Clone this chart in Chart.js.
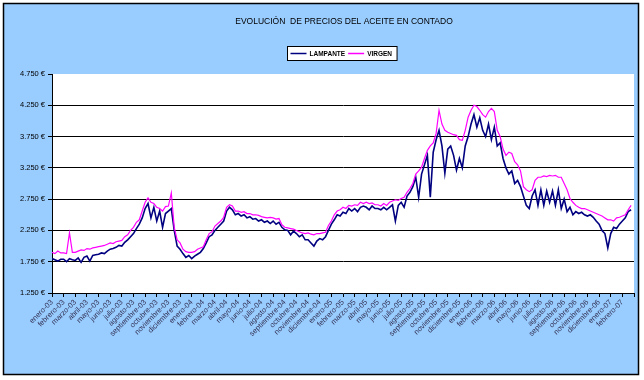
<!DOCTYPE html>
<html><head><meta charset="utf-8">
<script src="https://cdn.jsdelivr.net/npm/chart.js@4.4.1/dist/chart.umd.min.js"></script>
<style>html,body{margin:0;padding:0;background:#fff}#wrap{width:644px;height:380px}</style>
</head><body><div id="wrap"><canvas id="c" width="644" height="380"></canvas></div>
<script>
const chartTitle = 'EVOLUCIÓN  DE PRECIOS DEL ACEITE EN CONTADO';
const seriesNames = ['LAMPANTE', 'VIRGEN'];
const months = [
 'enero-03','febrero-03','marzo-03','abril-03','mayo-03','junio-03','julio-03','agosto-03','septiembre-03','octubre-03','noviembre-03','diciembre-03',
 'enero-04','febrero-04','marzo-04','abril-04','mayo-04','junio-04','julio-04','agosto-04','septiembre-04','octubre-04','noviembre-04','diciembre-04',
 'enero-05','febrero-05','marzo-05','abril-05','mayo-05','junio-05','julio-05','agosto-05','septiembre-05','octubre-05','noviembre-05','diciembre-05',
 'enero-06','febrero-06','marzo-06','abril-06','mayo-06','junio-06','julio-06','agosto-06','septiembre-06','octubre-06','noviembre-06','diciembre-06',
 'enero-07','febrero-07'
];
const yTicks = [1250, 1750, 2250, 2750, 3250, 3750, 4250, 4750];
const pointsPerMonth = 4;
// weekly readings, 4 per month, enero-03 .. febrero-07
const lampante = [
 1800,1780,1760,1790, 1790,1750,1800,1780, 1770,1810,1740,1820, 1840,1760,1850,1860,
 1870,1890,1880,1920, 1950,1960,1980,2010, 2000,2060,2100,2150, 2200,2280,2350,2450,
 2600,2680,2450,2620, 2400,2560,2300,2520, 2560,2600,2250,2000, 1950,1880,1820,1850,
 1800,1840,1870,1900, 1960,2050,2150,2180, 2250,2300,2350,2400, 2560,2620,2580,2500,
 2520,2480,2500,2450, 2470,2430,2440,2400, 2420,2380,2400,2360, 2400,2350,2380,2300,
 2260,2250,2180,2240, 2200,2150,2180,2100, 2100,2050,2000,2080, 2120,2100,2150,2250,
 2350,2420,2500,2480, 2540,2520,2600,2560, 2600,2550,2620,2640, 2620,2580,2640,2600,
 2600,2580,2620,2580, 2620,2660,2400,2650, 2700,2620,2800,2860, 2950,3100,2780,3150,
 3300,3450,2780,3500, 3700,3850,3600,3165, 3550,3600,3450,3215, 3400,3250,3600,3750,
 3950,4100,3900,4050, 3850,3750,3950,3700, 3900,3600,3650,3400, 3250,3150,3200,3000,
 3050,2950,2800,2650, 2600,2800,2900,2650, 2900,2650,2880,2700, 2880,2650,2900,2600,
 2750,2550,2620,2500, 2550,2520,2540,2500, 2480,2500,2460,2400, 2350,2250,2200,1970,
 2200,2300,2280,2350, 2400,2450,2550,2580
];
const virgen = [
 1900,1880,1920,1890, 1890,1880,2210,1900, 1900,1920,1940,1930, 1960,1950,1970,1980,
 1990,2000,2010,2030, 2050,2040,2070,2080, 2090,2150,2180,2250, 2300,2380,2420,2560,
 2700,2770,2700,2680, 2620,2600,2560,2630, 2640,2850,2300,2100, 2050,1950,1910,1900,
 1900,1910,1950,1970, 1990,2100,2200,2230, 2320,2360,2400,2460, 2620,2660,2640,2560,
 2560,2540,2550,2520, 2520,2500,2500,2490, 2470,2460,2450,2460, 2450,2430,2440,2340,
 2300,2290,2280,2270, 2250,2230,2210,2200, 2210,2190,2180,2200, 2200,2210,2220,2330,
 2400,2500,2560,2580, 2620,2600,2650,2640, 2660,2650,2700,2680, 2700,2680,2690,2660,
 2660,2640,2680,2650, 2700,2720,2740,2730, 2760,2780,2860,2920, 3000,3150,3200,3260,
 3400,3530,3600,3650, 3800,4170,3950,3850, 3820,3800,3780,3770, 3700,3690,3850,4060,
 4170,4250,4230,4170, 4100,4060,4150,4200, 4150,3850,3750,3550, 3450,3500,3480,3350,
 3300,3200,2950,2900, 2870,2900,3050,3100, 3100,3120,3110,3130, 3120,3130,3100,3100,
 3000,2900,2760,2700, 2650,2620,2600,2600, 2580,2560,2540,2520, 2500,2480,2450,2420,
 2420,2400,2450,2460, 2480,2500,2580,2650
];
const colors = ['#000080', '#FF00FF'];

function fmtEuro(v) {
  const t = Math.floor(v / 1000), r = String(v % 1000).padStart(3, '0');
  return t + '.' + r + ' \u20ac';
}
const toPts = arr => arr.map((v, i) => ({x: i / pointsPerMonth, y: v}));

const framePlugin = {
  id: 'frame',
  beforeDraw(chart) {
    const ctx = chart.ctx, a = chart.chartArea;
    ctx.save();
    ctx.fillStyle = '#ffffff';
    ctx.fillRect(0, 0, chart.width, chart.height);
    ctx.fillStyle = '#99CCFF';
    ctx.fillRect(3, 3, 636, 372);
    ctx.strokeStyle = '#000';
    ctx.lineWidth = 1.5;
    ctx.strokeRect(3.5, 3.5, 635, 371);
    ctx.fillStyle = '#ffffff';
    ctx.fillRect(a.left, a.top, a.right - a.left, a.bottom - a.top);
    ctx.restore();
  },
  afterDraw(chart) {
    const ctx = chart.ctx;
    ctx.save();
    ctx.fillStyle = '#000';
    ctx.font = '8.5px "Liberation Sans", Arial, sans-serif';
    ctx.textAlign = 'center';
    ctx.textBaseline = 'middle';
    ctx.fillText(chartTitle, 344, 22);
    ctx.font = 'bold 6.5px "Liberation Sans", Arial, sans-serif';
    ctx.textAlign = 'left';
    const lineLen = 16, gap = 3;
    const w0 = ctx.measureText(chart.data.datasets[0].label).width;
    const w1 = ctx.measureText(chart.data.datasets[1].label).width;
    const inner = lineLen + gap + w0 + gap + lineLen + gap + w1;
    const bw = inner + 8, bx = Math.round(342 - bw / 2) + 0.5, by = 46.5, bh = 14;
    ctx.fillStyle = '#fff';
    ctx.fillRect(bx, by, bw, bh);
    ctx.strokeStyle = '#000';
    ctx.lineWidth = 1;
    ctx.strokeRect(bx, by, bw, bh);
    let x = bx + 3;
    const cy = by + bh / 2;
    chart.data.datasets.forEach((ds, i) => {
      ctx.strokeStyle = ds.borderColor;
      ctx.lineWidth = 1.5;
      ctx.beginPath(); ctx.moveTo(x, cy); ctx.lineTo(x + lineLen, cy); ctx.stroke();
      x += lineLen + gap;
      ctx.fillStyle = '#000';
      ctx.fillText(ds.label, x, cy + 0.5);
      x += (i === 0 ? w0 : w1) + gap;
    });
    ctx.restore();
  }
};

new Chart(document.getElementById('c'), {
  type: 'line',
  data: {
    datasets: [
      {label: seriesNames[0], data: toPts(lampante), borderColor: colors[0], borderWidth: 1.6, order: 1},
      {label: seriesNames[1], data: toPts(virgen), borderColor: colors[1], borderWidth: 1.2, order: 0}
    ]
  },
  options: {
    responsive: false,
    animation: false,
    devicePixelRatio: 1,
    layout: {padding: {top: 74, right: 10, left: 0, bottom: 0}},
    elements: {point: {radius: 0}, line: {tension: 0}},
    plugins: {legend: {display: false}, title: {display: false}, tooltip: {enabled: false}},
    scales: {
      x: {
        type: 'linear', min: 0, max: months.length,
        afterBuildTicks: s => { s.ticks = months.map((m, i) => ({value: i})).concat([{value: months.length}]); },
        afterFit: s => { s.height = 87; },
        ticks: {autoSkip: false, minRotation: 45, maxRotation: 45, padding: 1,
          color: '#333355', font: {family: '"Liberation Sans", Arial, sans-serif', size: 7.5},
          callback: v => months[v] !== undefined ? months[v] : ''},
        grid: {drawOnChartArea: false, tickLength: 4, color: '#000', lineWidth: 1},
        border: {color: '#000', width: 1}
      },
      y: {
        min: yTicks[0], max: yTicks[yTicks.length - 1],
        afterBuildTicks: s => { s.ticks = yTicks.map(v => ({value: v})); },
        afterFit: s => { s.width = 52; },
        ticks: {color: '#000', padding: 3, font: {family: '"Liberation Sans", Arial, sans-serif', size: 7.5},
          callback: v => fmtEuro(v)},
        grid: {
          color: c => (c.tick && c.tick.value > yTicks[0] && c.tick.value < yTicks[yTicks.length - 1]) ? '#000' : 'rgba(0,0,0,0)',
          tickColor: '#000', tickLength: 4, lineWidth: 1
        },
        border: {color: '#000', width: 1}
      }
    }
  },
  plugins: [framePlugin]
});
</script>
</body></html>
